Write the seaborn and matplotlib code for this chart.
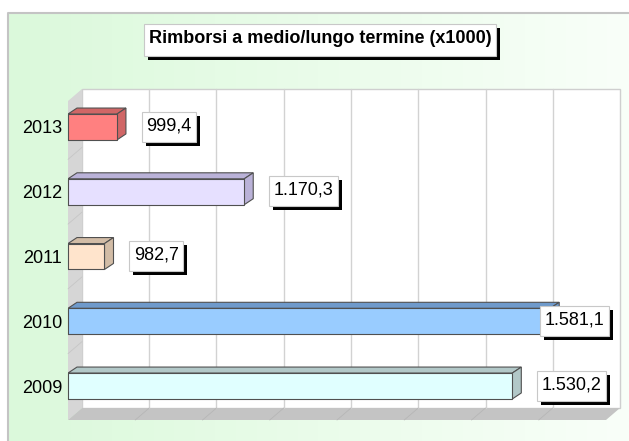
import numpy as np
import matplotlib
matplotlib.use("Agg")
import matplotlib.pyplot as plt
from matplotlib.patches import Polygon, Rectangle
from matplotlib.colors import LinearSegmentedColormap
import seaborn as sns

# data
years = ["2013", "2012", "2011", "2010", "2009"]
values = [999.4, 1170.3, 982.7, 1581.1, 1530.2]
labels = ["999,4", "1.170,3", "982,7", "1.581,1", "1.530,2"]
front_colors = ["#ff8080", "#e6e0ff", "#ffe4cc", "#99ccff", "#e0ffff"]
depth_colors = ["#d06666", "#bab2d8", "#d2bca6", "#6f9acb", "#b2c8c8"]
title = "Rimborsi a medio/lungo termine (x1000)"

W, H = 629, 441
x_lo, x_hi = 933.7, 1656.0
y_lo, y_hi = 4.525, -0.4015
n_grid = 8

sns.set_style("white")
plt.rcParams["font.family"] = ["Liberation Sans", "DejaVu Sans"]

fig = plt.figure(figsize=(W / 100, H / 100), dpi=100)
fig.patch.set_facecolor("white")

# background panel with soft green gradient
bg = fig.add_axes([0, 0, 1, 1])
bg.set_xlim(0, W)
bg.set_ylim(H, 0)
bg.axis("off")
cmap = LinearSegmentedColormap.from_list("bg", ["#dbf9db", "#f9fff9"])
bg.imshow(np.linspace(0, 1, 256).reshape(1, -1), extent=(8, W, H, 13),
          aspect="auto", cmap=cmap)
bg.plot([8, 8, W], [H, 13, 13], color="#c4c4c4", lw=1.5)

title_txt = bg.text(320, 38.5, title, ha="center", va="center", fontsize=13,
                    fontweight="bold", color="black", zorder=3)

# front plane of the 3d box
fl, fr, ft, fb = 68, 606, 101, 420
ax = fig.add_axes([fl / W, (H - fb) / H, (fr - fl) / W, (fb - ft) / H])
ax.patch.set_alpha(0)

sns.barplot(x=values, y=years, hue=years, palette=front_colors, order=years,
            hue_order=years, legend=False, orient="h", width=0.4, saturation=1,
            edgecolor="#505050", linewidth=0.8, ax=ax, zorder=3)
bars = list(ax.patches)

ax.set_xlim(x_lo, x_hi)
ax.set_ylim(y_lo, y_hi)
ax.set_xticks([])
ax.set_xlabel("")
ax.set_ylabel("")
ax.tick_params(axis="y", length=0, pad=4.3, labelsize=13, labelcolor="black")
for s in ax.spines.values():
    s.set_visible(False)

# walls and floor (axes fraction, shifted back)
sx, sy = 14 / (fr - fl), 12 / (fb - ft)
ax.add_patch(Rectangle((sx, sy), 1, 1, transform=ax.transAxes, fc="white",
                       ec="#cfcfcf", lw=1, clip_on=False, zorder=0))
ax.add_patch(Polygon([(0, 0), (0, 1), (sx, 1 + sy), (sx, sy)], transform=ax.transAxes,
                     fc="#d6d6d6", ec="none", clip_on=False, zorder=0.2))
ax.add_patch(Polygon([(0, 0), (1, 0), (1 + sx, sy), (sx, sy)], transform=ax.transAxes,
                     fc="#c4c4c4", ec="none", clip_on=False, zorder=0.2))
for f in np.linspace(0, 1, n_grid + 1)[1:-1]:
    ax.plot([f + sx, f + sx], [sy, 1 + sy], transform=ax.transAxes,
            color="#d2d2d2", lw=1, clip_on=False, zorder=0.5)
    ax.plot([f, f + sx], [0, sy], transform=ax.transAxes,
            color="#b6b6b6", lw=0.6, clip_on=False, zorder=0.5)
for yb in np.arange(len(years) - 1) + 0.5:
    f = (y_lo - yb) / (y_lo - y_hi)
    ax.plot([0, sx], [f, f + sy], transform=ax.transAxes,
            color="#c6c6c6", lw=0.6, clip_on=False, zorder=0.5)

# 3d faces of the bars
ddx = 9 * (x_hi - x_lo) / (fr - fl)
ddy = 6 * (y_lo - y_hi) / (fb - ft)
for p in bars:
    i = int(round(p.get_y() + p.get_height() / 2))
    y0, h = p.get_y(), p.get_height()
    x0 = max(p.get_x(), x_lo)
    x1 = p.get_x() + p.get_width()
    top = [(x0, y0), (x1, y0), (x1 + ddx, y0 - ddy), (x0 + ddx, y0 - ddy)]
    side = [(x1, y0), (x1, y0 + h), (x1 + ddx, y0 + h - ddy), (x1 + ddx, y0 - ddy)]
    for pts in (top, side):
        ax.add_patch(Polygon(pts, fc=depth_colors[i], ec="#505050", lw=0.8, zorder=2.9))
    ax.plot([x0, x0], [y0, y0 + h], color="#505050", lw=0.8, zorder=3.1, clip_on=False)

# value labels: box left sits 25 px past the bar end, kept inside the plot
px2pt = 72 / fig.dpi
fig.canvas.draw()
renderer = fig.canvas.get_renderer()
label_txts = []
for i, (v, lab) in enumerate(zip(values, labels)):
    off = 29.5 * px2pt
    t = ax.annotate(lab, xy=(v, i), xytext=(off, 1), textcoords="offset points",
                    ha="left", va="center", fontsize=13, color="black", zorder=7,
                    annotation_clip=False)
    bb = t.get_window_extent(renderer)
    if bb.x1 + 4.5 > 609:
        t.xyann = (off - (bb.x1 + 4.5 - 609) * px2pt, 1)
    label_txts.append(t)

# white boxes with black drop shadows
fig.canvas.draw()
specs = [(title_txt, bg, 5, 32)] + [(t, ax, 4.5, 30) for t in label_txts]
for t, host, padx, hgt in specs:
    bb = t.get_window_extent(renderer)
    cy = (bb.y0 + bb.y1) / 2 - 1
    x0, w = bb.x0 - padx, bb.width + 2 * padx
    y0 = cy - hgt / 2
    z = t.get_zorder()
    host.add_patch(Rectangle((x0 + 4, y0 - 4), w, hgt, transform=None, fc="black",
                             ec="none", clip_on=False, zorder=z - 1))
    host.add_patch(Rectangle((x0, y0), w, hgt, transform=None, fc="white",
                             ec="#c8c8c8", lw=0.8, clip_on=False, zorder=z - 0.5))

fig.savefig("out.png", dpi=100)
plt.close(fig)
